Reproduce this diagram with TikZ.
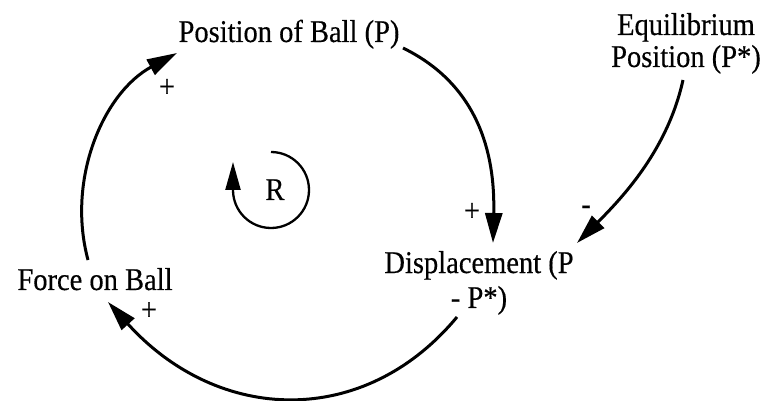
\documentclass[tikz,border=0pt]{standalone}
\usepackage{fontspec}
\setmainfont[FakeBold=0.4]{Liberation Serif}
\usepackage{graphicx}
\usetikzlibrary{arrows.meta}
\newcommand{\vst}[1]{\scalebox{1}[1.11]{#1}}
\begin{document}
\begin{tikzpicture}[x=1pt,y=-1pt,
  lbl/.style={inner sep=0pt, font=\fontsize{28.5}{30}\selectfont},
  link/.style={line width=3pt, -{Triangle[length=30pt,width=17pt]}},
  loopline/.style={line width=2.3pt, -{Triangle[length=28pt,width=15pt]}}]
\useasboundingbox (0,0) rectangle (764,401);
% variables
\node[lbl,anchor=base] (pos) at (289,42) {\vst{Position of Ball (P)}};
\node[lbl,anchor=base,font=\fontsize{28.5}{28.8}\selectfont] (eq) at (686,35)
  {\vst{\begin{tabular}[t]{@{}c@{}}Equilibrium\\Position (P*)\end{tabular}}};
\node[lbl,anchor=base,font=\fontsize{28.5}{31.5}\selectfont] (disp) at (479,273)
  {\vst{\begin{tabular}[t]{@{}c@{}}Displacement (P\\- P*)\end{tabular}}};
\node[lbl,anchor=base] (force) at (95,290) {\vst{Force on Ball}};
\node[lbl,anchor=base] (R) at (275,200) {\vst{R}};
% links
\draw[link] ([shift={(-7,-30)}]force.base) .. controls +(-21.7,-80.9) and +(-73.7,39.9) .. ([shift={(-112,11)}]pos.base);
\draw[link] ([shift={(114,6)}]pos.base) .. controls +(81,39.6) and +(2,-80) .. ([shift={(14,-30)}]disp.base);
\draw[link] ([shift={(-22,44)}]disp.base) .. controls +(-92.8,111.7) and +(110.5,122.1) .. ([shift={(13,12)}]force.base);
\draw[link] ([shift={(-3,45)}]eq.base) .. controls +(-15,68) and +(48,-48) .. ([shift={(98,-30)}]disp.base);
% polarities
\node[lbl] (s1) at (167,88) {\vst{+}};
\node[lbl] (s2) at (472,212) {\vst{+}};
\node[lbl] (s3) at (586,210) {\vst{-}};
\node[lbl] (s4) at (149,311) {\vst{+}};
% loop symbol
\draw[loopline] (271,152) .. controls +(21,0) and +(0,-21) .. (309,190)
  .. controls +(0,21) and +(21,0) .. (271,228)
  .. controls +(-21,0) and +(0,21) .. (233,190) -- (233,162);
\end{tikzpicture}
\end{document}
